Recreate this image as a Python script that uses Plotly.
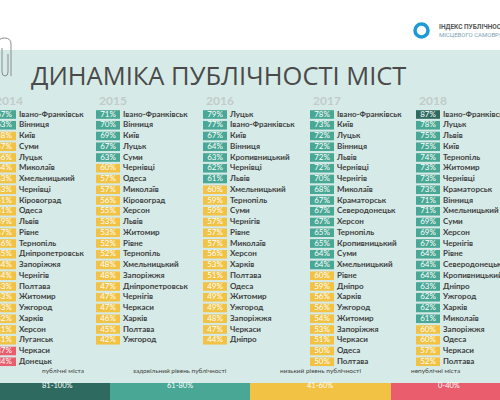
import plotly.graph_objects as go

# publicity index by year, ranked top to bottom
years = ["2014", "2015", "2016", "2017", "2018"]

cities_2014 = ["Івано-Франківськ", "Вінниця", "Київ", "Суми", "Луцьк", "Миколаїв", "Хмельницький",
               "Чернівці", "Кіровоград", "Одеса", "Львів", "Рівне", "Тернопіль", "Дніпропетровськ",
               "Запоріжжя", "Чернігів", "Полтава", "Житомир", "Ужгород", "Харків", "Херсон",
               "Луганськ", "Черкаси", "Донецьк"]
values_2014 = [67, 63, 58, 57, 56, 54, 53, 53, 51, 51, 49, 47, 46, 45, 44, 44, 43, 43, 43, 42, 41, 41, 37, 34]

cities_2015 = ["Івано-Франківськ", "Вінниця", "Київ", "Луцьк", "Суми", "Чернівці", "Одеса", "Миколаїв",
               "Кіровоград", "Херсон", "Львів", "Житомир", "Рівне", "Тернопіль", "Хмельницький",
               "Запоріжжя", "Дніпропетровськ", "Чернігів", "Черкаси", "Харків", "Полтава", "Ужгород"]
values_2015 = [71, 70, 69, 67, 63, 60, 57, 57, 56, 55, 53, 53, 52, 52, 48, 48, 47, 47, 47, 46, 45, 42]

cities_2016 = ["Луцьк", "Івано-Франківськ", "Київ", "Вінниця", "Кропивницький", "Чернівці", "Львів",
               "Хмельницький", "Тернопіль", "Суми", "Чернігів", "Рівне", "Миколаїв", "Херсон", "Харків",
               "Полтава", "Одеса", "Житомир", "Ужгород", "Запоріжжя", "Черкаси", "Дніпро"]
values_2016 = [79, 77, 67, 64, 63, 62, 61, 60, 59, 59, 57, 57, 57, 56, 53, 51, 49, 49, 49, 48, 47, 44]

cities_2017 = ["Івано-Франківськ", "Київ", "Луцьк", "Вінниця", "Львів", "Чернівці", "Чернігів",
               "Миколаїв", "Краматорськ", "Северодонецьк", "Херсон", "Тернопіль", "Кропивницький",
               "Суми", "Хмельницький", "Рівне", "Дніпро", "Харків", "Ужгород", "Житомир", "Запоріжжя",
               "Черкаси", "Одеса", "Полтава"]
values_2017 = [78, 73, 72, 72, 72, 72, 70, 68, 67, 67, 67, 65, 65, 64, 64, 60, 59, 56, 56, 54, 53, 51, 50, 50]

cities_2018 = ["Івано-Франківськ", "Луцьк", "Львів", "Київ", "Тернопіль", "Житомир", "Чернівці",
               "Краматорськ", "Вінниця", "Хмельницький", "Суми", "Херсон", "Чернігів", "Рівне",
               "Северодонецьк", "Кропивницький", "Дніпро", "Ужгород", "Харків", "Миколаїв",
               "Запоріжжя", "Одеса", "Черкаси", "Полтава"]
values_2018 = [87, 78, 75, 75, 74, 73, 73, 73, 71, 71, 69, 69, 67, 64, 64, 64, 63, 62, 62, 61, 60, 60, 57, 52]

all_cities = [cities_2014, cities_2015, cities_2016, cities_2017, cities_2018]
all_values = [values_2014, values_2015, values_2016, values_2017, values_2018]

# legend bands
band_labels = ["публічні міста", "задовільний рівень публічності", "низький рівень публічності", "непублічні міста"]
band_ranges = ["81-100%", "61-80%", "41-60%", "0-40%"]
band_colors = ["#2e6a5f", "#48a795", "#f2c244", "#ea5d6d"]

# layout in pixels (500x400 canvas)
W, H = 500, 400
col_left = [-8, 96, 203, 310, 416]
badge_w = 24
row0_px = 114.5
row_px = 10.75


def band_color(v):
    if v > 80:
        return band_colors[0]
    if v > 60:
        return band_colors[1]
    if v > 40:
        return band_colors[2]
    return band_colors[3]


def py(px):
    return 1 - px / H


def pxx(px):
    return px / W


fig = go.Figure()

for k in range(len(years)):
    vals = all_values[k]
    names = all_cities[k]
    ranks = list(range(len(vals)))
    fig.add_trace(go.Bar(
        y=ranks, x=[badge_w] * len(vals), base=col_left[k], orientation="h",
        width=0.8, marker_color=[band_color(v) for v in vals], marker_line_width=0,
        hoverinfo="skip"))
    fig.add_trace(go.Scatter(
        y=ranks, x=[col_left[k] + badge_w / 2] * len(vals), mode="text",
        text=[str(v) + "%" for v in vals], textposition="middle center",
        textfont=dict(family="Lato", size=8, color="white"), hoverinfo="skip"))
    fig.add_trace(go.Scatter(
        y=ranks, x=[col_left[k] + badge_w + 3] * len(vals), mode="text",
        text=names, textposition="middle right",
        textfont=dict(family="Lato", size=8, color="#3f3f3f", weight="bold"), hoverinfo="skip"))
    # year header
    fig.add_annotation(text="<b>" + years[k] + "</b>", x=pxx(col_left[k] + 1), y=py(100),
                       xref="paper", yref="paper", xanchor="left", yanchor="middle",
                       showarrow=False, font=dict(family="Lato", size=12, color="#c2cbc9"))

# background panel
shapes = [dict(type="rect", xref="paper", yref="paper", x0=0, x1=1, y0=0, y1=py(50),
               fillcolor="#d6ebe7", line_width=0, layer="below")]

# legend bars along the bottom
band_x = [0, 110, 250, 391, 500]
band_center = [40, 180, 320, 462]
for i in range(4):
    shapes.append(dict(type="rect", xref="paper", yref="paper",
                       x0=pxx(band_x[i]), x1=pxx(band_x[i + 1]), y0=0, y1=py(383),
                       fillcolor=band_colors[i], line_width=0))
    fig.add_annotation(text=band_ranges[i], x=pxx(band_center[i]), y=py(391.5),
                       xref="paper", yref="paper", showarrow=False,
                       font=dict(family="Lato", size=7.5, color="white"))
    fig.add_annotation(text=band_labels[i], x=pxx(band_center[i]), y=py(376),
                       xref="paper", yref="paper", showarrow=False,
                       font=dict(family="Lato", size=6.5, color="#3f3f3f"))

# logo ring
shapes.append(dict(type="circle", xref="paper", yref="paper",
                   x0=pxx(415), x1=pxx(428), y0=py(37), y1=py(24),
                   line=dict(color="#1d9ad6", width=3.5)))

# paperclip
clip = "M %f %f L %f %f Q %f %f %f %f Q %f %f %f %f L %f %f" % (
    pxx(-2), py(80), pxx(-2), py(44), pxx(-2), py(38), pxx(4.5), py(38),
    pxx(11), py(38), pxx(11), py(44), pxx(11), py(76))
shapes.append(dict(type="path", xref="paper", yref="paper", path=clip,
                   line=dict(color="#8c8c8c", width=1)))
inner = "M %f %f L %f %f Q %f %f %f %f Q %f %f %f %f L %f %f" % (
    pxx(2), py(48), pxx(2), py(72), pxx(2), py(76), pxx(5), py(76),
    pxx(8), py(76), pxx(8), py(72), pxx(8), py(54))
shapes.append(dict(type="path", xref="paper", yref="paper", path=inner,
                   line=dict(color="#8c8c8c", width=1)))

fig.add_annotation(text="ДИНАМІКА ПУБЛІЧНОСТІ МІСТ", x=pxx(29), y=py(74.5),
                   xref="paper", yref="paper", xanchor="left", yanchor="middle", showarrow=False,
                   font=dict(family="Open Sans", size=25.5, color="#4a4a4a"))
fig.add_annotation(text="<b>ІНДЕКС ПУБЛІЧНОСТІ</b>", x=pxx(437), y=py(27),
                   xref="paper", yref="paper", xanchor="left", yanchor="middle", showarrow=False,
                   font=dict(family="Roboto", size=6.5, color="#555555"))
fig.add_annotation(text="МІСЦЕВОГО САМОВРЯДУВАННЯ", x=pxx(437), y=py(34.5),
                   xref="paper", yref="paper", xanchor="left", yanchor="middle", showarrow=False,
                   font=dict(family="Roboto", size=6, color="#7a9fb5"))

fig.update_layout(
    width=W, height=H,
    margin=dict(l=0, r=0, t=0, b=0),
    paper_bgcolor="white", plot_bgcolor="rgba(0,0,0,0)",
    showlegend=False, barmode="overlay", hovermode=False,
    shapes=shapes,
    xaxis=dict(range=[0, W], visible=False, fixedrange=True),
    yaxis=dict(range=[(H - row0_px) / row_px, -row0_px / row_px], visible=False, fixedrange=True),
)

# page margin would push the 500x400 figure off the window
fig.write_html("out.html", config={"displayModeBar": False},
               post_script="document.body.style.margin='0';")
